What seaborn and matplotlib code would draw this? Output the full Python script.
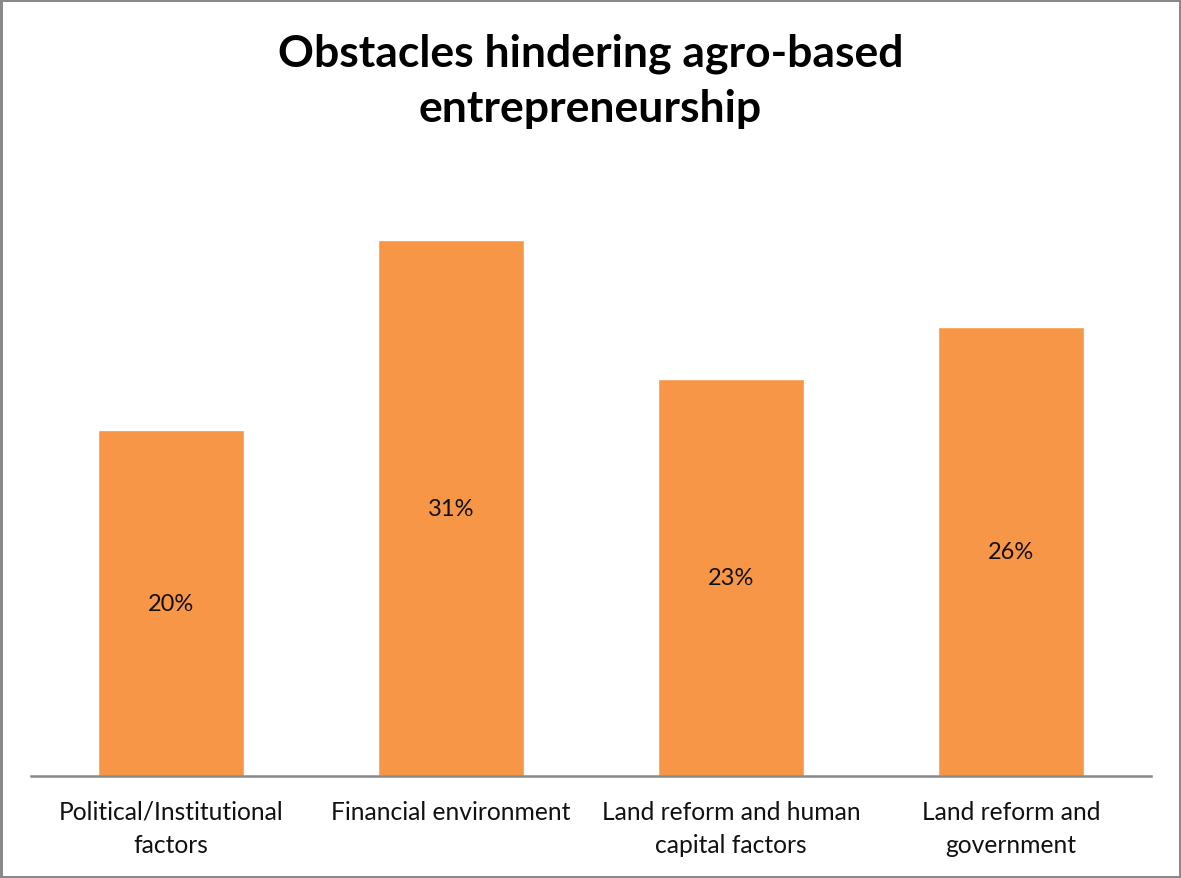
import matplotlib
matplotlib.use("Agg")
import matplotlib.pyplot as plt
import seaborn as sns
import pandas as pd

categories = [
    "Political/Institutional\nfactors",
    "Financial environment",
    "Land reform and human\ncapital factors",
    "Land reform and\ngovernment",
]
shares = [0.20, 0.31, 0.23, 0.26]
title = "Obstacles hindering agro-based\nentrepreneurship"

bar_color = "#F79646"
axis_gray = "#898989"

sns.set_theme(style="white")
plt.rcParams["font.family"] = ["Lato", "DejaVu Sans"]

df = pd.DataFrame({"category": categories, "share": shares})

fig = plt.figure(figsize=(11.81, 8.79), dpi=100, facecolor="white",
                 edgecolor=axis_gray, linewidth=2.5)
ax = fig.add_axes([0.0262, 0.116, 0.9484, 0.688])

sns.barplot(data=df, x="category", y="share", color=bar_color,
            saturation=1, width=0.52, ax=ax)

ax.set_xlim(-0.5, len(categories) - 0.5)
ax.set_ylim(0, 0.35)

for container in ax.containers:
    ax.bar_label(container, labels=[f"{v:.0%}" for v in shares],
                 label_type="center", fontsize=17, color="#111111")

ax.set_xlabel("")
ax.set_ylabel("")
ax.set_yticks([])
ax.tick_params(axis="x", length=0, pad=17, labelsize=17.7, labelcolor="#111111")
for lbl in ax.get_xticklabels():
    lbl.set_linespacing(1.55)

for side in ["top", "right", "left"]:
    ax.spines[side].set_visible(False)
ax.spines["bottom"].set_color(axis_gray)
ax.spines["bottom"].set_linewidth(1.8)

fig.text(0.5, 0.962, title, ha="center", va="top", fontsize=32,
         fontweight="bold", color="black", linespacing=1.45)

fig.savefig("out.png", dpi=100, facecolor="white",
            edgecolor=fig.get_edgecolor())
